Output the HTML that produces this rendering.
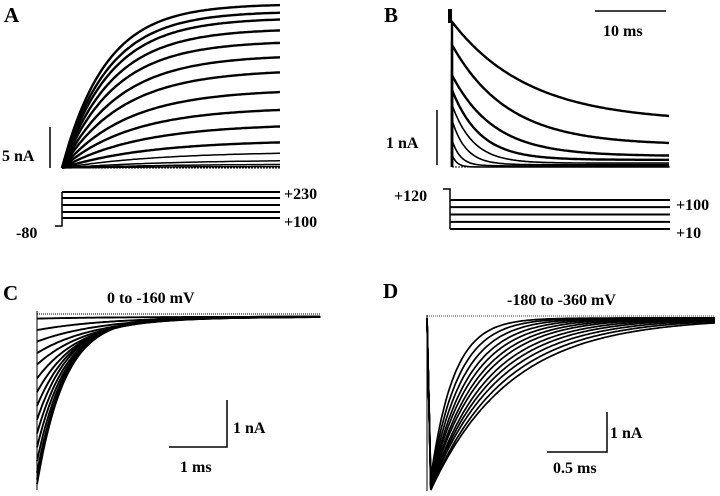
<!DOCTYPE html>
<html><head><meta charset="utf-8"><style>
html,body{margin:0;padding:0;background:#fff;}
svg{display:block;}
text{font-family:"Liberation Serif",serif;fill:#000;}
.lbl{font-size:21px;font-weight:bold;}
.t{font-size:16px;font-weight:bold;}
</style></head><body>
<svg id="fig" width="720" height="496" viewBox="0 0 720 496">
<g id="gA">
<text class="lbl" x="4" y="22">A</text>
<line x1="50" y1="127" x2="50" y2="168" stroke="#000" stroke-width="1.5"/>
<text class="t" x="2" y="161">5 nA</text>
<line x1="62" y1="168" x2="280" y2="168" stroke="#000" stroke-width="1" stroke-dasharray="2,1"/>
<path d="M55,226 H62 V192" fill="none" stroke="#000" stroke-width="1.5"/>
<text class="t" x="16" y="238">-80</text>
<text class="t" x="284" y="199">+230</text>
<text class="t" x="284" y="227">+100</text>
</g>
<g id="gB">
<text class="lbl" x="384" y="22">B</text>
<line x1="595" y1="11" x2="666" y2="11" stroke="#000" stroke-width="1.5"/>
<text class="t" x="603" y="36">10 ms</text>
<line x1="437" y1="110" x2="437" y2="165" stroke="#000" stroke-width="1.5"/>
<text class="t" x="386" y="148">1 nA</text>
<line x1="452" y1="167" x2="670" y2="167" stroke="#000" stroke-width="1" stroke-dasharray="2,1"/>
<path d="M443,189 H450 V229" fill="none" stroke="#000" stroke-width="1.5"/>
<text class="t" x="394" y="201">+120</text>
<text class="t" x="676" y="210">+100</text>
<text class="t" x="676" y="238">+10</text>
<rect x="448" y="9" width="4" height="14" fill="#000"/>
</g>
<g id="gC">
<text class="lbl" x="3" y="300">C</text>
<text class="t" x="107" y="303">0 to -160 mV</text>
<line x1="37" y1="311" x2="37" y2="490" stroke="#000" stroke-width="1"/>
<line x1="37" y1="314" x2="320" y2="314" stroke="#000" stroke-width="1" stroke-dasharray="1,1"/>
<path d="M227,400 V447 H169" fill="none" stroke="#000" stroke-width="1.5"/>
<text class="t" x="233" y="433">1 nA</text>
<text class="t" x="180" y="472">1 ms</text>
</g>
<g id="gD">
<text class="lbl" x="383" y="298">D</text>
<text class="t" x="507" y="305">-180 to -360 mV</text>
<line x1="427" y1="315" x2="427" y2="491" stroke="#000" stroke-width="1"/>
<line x1="427" y1="316" x2="715" y2="316" stroke="#000" stroke-width="0.8" stroke-dasharray="1,1"/>
<path d="M607,412 V452 H547" fill="none" stroke="#000" stroke-width="1.5"/>
<text class="t" x="610" y="438">1 nA</text>
<text class="t" x="553" y="473">0.5 ms</text>
</g>
</svg>
<script>
// Panel A: activation currents (nA) and time constants (ms)
const aAmp = [20,19.1,18.3,17,15.5,13.8,12,9.6,7.4,5.4,3.4,2,1,0.5,0.2];
const aTau = [10,10.5,11,11.5,12,13,14,15,16,18,20,22,24,25,25];
const aSteps = [230,200,165,130,100]; // mV
// Panel B: tail currents
const bAmp = [2.64,2.22,1.67,1.4,1.13,0.85,0.49,0.22];
const bSS = [0.82,0.4,0.2,0.13,0.07,0.04,0.02,0.0];
const bTau = [11,8,6,4,3,2,1.2,0.7];
const bSteps = [100,78,55,32,10]; // mV
// Panel C: tail currents 0 to -160 mV
const cAmp = [0.1,0.35,0.6,0.85,1.1,1.4,1.7,2.0,2.3,2.6,2.9,3.2,3.45,3.6,3.7];
const cTau = [1.2,1.1,1.0,0.9,0.8,0.7,0.62,0.56,0.52,0.5,0.48,0.46,0.45,0.44,0.43];
// Panel D: tail currents -180 to -360 mV
const dAmp = [4.05,4.1,4.15,4.2,4.2,4.25,4.25,4.3,4.3,4.3,4.35,4.35];
const dTau = [0.3,0.36,0.42,0.48,0.54,0.6,0.66,0.73,0.8,0.88,0.96,1.05];

const NS='http://www.w3.org/2000/svg';
function mk(g,d,w){const p=document.createElementNS(NS,'path');p.setAttribute('d',d);p.setAttribute('fill','none');p.setAttribute('stroke','#000');p.setAttribute('stroke-width',w);document.getElementById(g).appendChild(p);return p;}

const xA=t=>62+t*4.36, yA=v=>168-v*8.2, vA=mv=>218-(mv-100)*(26/130);
aAmp.forEach((A,i)=>{let d='';for(let t=0;t<=50;t+=0.5){d+=(t?'L':'M')+xA(t).toFixed(1)+','+yA(A*(1-Math.exp(-t/aTau[i]))).toFixed(1);}
const p=mk('gA',d,i<11?2.4:1.5);

});
aSteps.forEach(mv=>{const p=mk('gA','M62,'+vA(mv)+' H280',2);

});

const xB=t=>452+t*7, yB=v=>167-v*55, vB=mv=>229-(mv-10)*(29/90);
bAmp.forEach((A,i)=>{let d='M452,167 ';for(let t=0;t<=31.1;t+=0.25){const v=bSS[i]+(A-bSS[i])*Math.exp(-t/bTau[i]);d+='L'+xB(t).toFixed(1)+','+yB(v).toFixed(1);}
const p=mk('gB',d,i<4?2.4:1.6);

});
bSteps.forEach(mv=>{const p=mk('gB','M450,'+vB(mv).toFixed(1)+' H670',2);

});

const xC=t=>37+t*66, yC=v=>314+v*46;
cAmp.forEach((A,i)=>{let d='';for(let t=0;t<=4.3;t+=0.03){const v=0.06+(A-0.06)*Math.exp(-t/cTau[i]);d+=(t?'L':'M')+xC(t).toFixed(1)+','+yC(Math.max(v,0.02)).toFixed(1);}
const p=mk('gC',d,1.9);

});

const xD=t=>427+t*76, yD=v=>316+v*40;
dAmp.forEach((A,i)=>{let d='M427,318 ';for(let t=0.05;t<=3.8;t+=0.02){const v=0.05+(A-0.05)*Math.exp(-(t-0.05)/dTau[i]);d+='L'+xD(t).toFixed(1)+','+yD(v).toFixed(1);}
const p=mk('gD',d,1.7);

});
</script>
</body></html>
